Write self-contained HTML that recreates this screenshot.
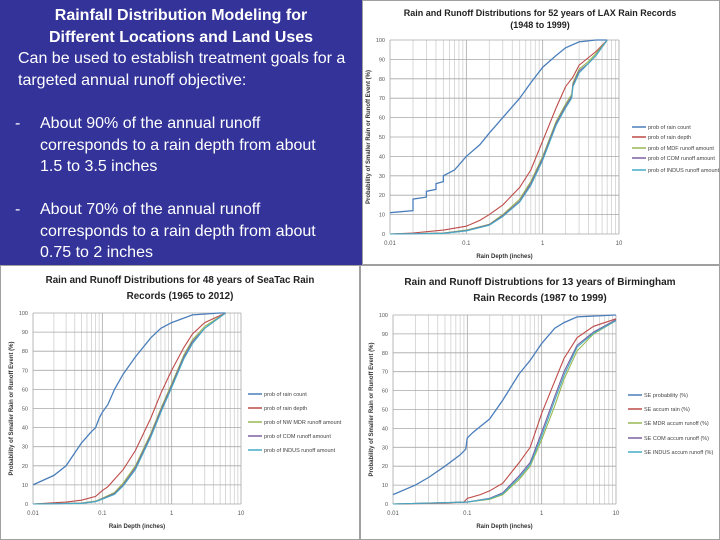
<!DOCTYPE html>
<html><head><meta charset="utf-8"><style>
html,body{margin:0;padding:0;width:720px;height:540px;overflow:hidden;background:#fff;font-family:"Liberation Sans",sans-serif}
#txt{position:absolute;left:0;top:0;width:362px;height:265px;background:#333399;color:#fff;font-size:16px;line-height:21.5px}
#txt div{position:absolute}
svg{position:absolute;left:0;top:0}
</style></head><body>
<div id="txt">
<div style="left:0;width:362px;top:5px;text-align:center;font-weight:bold">Rainfall Distribution Modeling for<br>Different Locations and Land Uses</div>
<div style="left:18px;top:48px;width:340px">Can be used to establish treatment goals for a targeted annual runoff objective:</div>
<div style="left:15px;top:113px;width:345px"><span style="position:absolute;left:0">-</span><div style="position:relative;left:25px;width:290px">About 90% of the annual runoff corresponds to a rain depth from about 1.5 to 3.5 inches</div></div>
<div style="left:15px;top:199px;width:345px"><span style="position:absolute;left:0">-</span><div style="position:relative;left:25px;width:290px">About 70% of the annual runoff corresponds to a rain depth from about 0.75 to 2 inches</div></div>
</div>
<svg id="svg" width="720" height="540" xmlns="http://www.w3.org/2000/svg"></svg>
<script>
// LAX
const laxCountX=[0.01,0.02,0.02,0.03,0.03,0.04,0.04,0.05,0.05,0.07,0.1,0.15,0.2,0.3,0.5,0.7,1,1.5,2,3,5,7];
const laxCountY=[11,12,18,19,22,23,26,27,30,33,40,46,52,60,70,78,86,92,96,99,100,100];
const laxDepthX=[0.01,0.02,0.05,0.1,0.15,0.2,0.3,0.5,0.7,1,1.5,2,2.5,3,4,5,7];
const laxDepthY=[0,0.5,2,4,7,10,15,24,33,48,65,76,81,87,91,94,100];
const laxRunX=[0.01,0.05,0.1,0.2,0.3,0.5,0.7,1,1.5,2,2.4,2.5,3,4,5,7];
const laxMdfY=[0,0.5,2,5,10,18,27,40,58,67,72,78,85,89,93,100];
const laxComY=[0,0.4,1.8,4.8,9.5,17,26,39,57,66,71,77,84,88,92,100];
const laxIndY=[0,0.3,1.6,4.5,9,16.5,25,38,56,65,70,76,83,88,92,100];
// SeaTac
const seaCountX=[0.01,0.02,0.03,0.05,0.07,0.08,0.09,0.1,0.12,0.15,0.2,0.3,0.5,0.7,1,2,5,6];
const seaCountY=[10,15,20,32,38,40,45,48,52,60,68,77,87,92,95,99,100,100];
const seaDepthX=[0.01,0.03,0.05,0.08,0.1,0.12,0.15,0.2,0.3,0.5,0.7,1,1.5,2,3,6];
const seaDepthY=[0,1,2,4,7,9,13,18,28,45,58,70,82,89,95,100];
const seaRunX=[0.01,0.05,0.08,0.1,0.15,0.2,0.3,0.5,0.7,1,1.5,2,3,6];
const seaMdfY=[0,0.5,1.5,3,6,11,20,37,50,63,78,86,93,100];
const seaComY=[0,0.4,1.3,2.8,5.5,10,19,36,49,62,77,85,92,100];
const seaIndY=[0,0.3,1.2,2.5,5,9.5,18,35,48,61,76,84,92,100];
// Birmingham
const birCountX=[0.01,0.02,0.03,0.05,0.08,0.095,0.1,0.12,0.2,0.3,0.5,0.7,1,1.5,2,3,10];
const birCountY=[5,10,14,20,26,29,35,38,45,55,69,76,85,93,96,99,100];
const birDepthX=[0.01,0.05,0.09,0.1,0.15,0.2,0.3,0.5,0.7,1,1.5,2,3,5,10];
const birDepthY=[0,0.5,1,3,5,7,11,22,30,48,65,77,88,94,98];
const birRunX=[0.01,0.1,0.2,0.3,0.5,0.7,1,1.5,2,3,5,10];
const birMdfY=[0,1,2.5,5,13,20,34,52,66,81,90,97];
const birComY=[0,1,3,6,15,22,38,57,70,84,91,97.5];
const birIndY=[0,1,2.8,5.5,14,21,36,55,68,83,90.5,97];
const yTicks=[0,10,20,30,40,50,60,70,80,90,100];
const xTicks=[0.01,0.1,1,10];
const xTickLabels=["0.01","0.1","1","10"];

const NS="http://www.w3.org/2000/svg";
const svg=document.getElementById('svg');
function mk(tag,attrs,parent,text){const e=document.createElementNS(NS,tag);for(const k in attrs)e.setAttribute(k,attrs[k]);if(text!==undefined)e.textContent=text;(parent||svg).appendChild(e);return e;}
const COLORS=["#4a7ebb","#be4b48","#98b954","#7d60a0","#46aac5"];
function chart(c){
  const g=mk('g',{});
  
  
  const bg=mk('rect',{x:c.px,y:c.py,width:c.pw,height:c.ph,fill:'#fff',stroke:'#a0a0a0','stroke-width':1},g);
  
  
  const sx=v=>c.x0+(Math.log10(v)+2)/3*(c.x1-c.x0);
  const sy=v=>c.y1-v/100*(c.y1-c.y0);
  for(let d=-2;d<1;d++)for(let m=2;m<=9;m++){const x=sx(m*Math.pow(10,d));const l=mk('line',{x1:x,x2:x,y1:c.y0,y2:c.y1,stroke:'#d0d0d0','stroke-width':0.8},g);}
  xTicks.forEach((t,i)=>{const x=sx(t);const l=mk('line',{x1:x,x2:x,y1:c.y0,y2:c.y1,stroke:'#a8a8a8','stroke-width':0.8},g);
    const tx=mk('text',{x:x,y:c.y1+11,'font-size':6,'text-anchor':'middle',fill:'#555'},g,xTickLabels[i]);});
  yTicks.forEach(t=>{const y=sy(t);const l=mk('line',{x1:c.x0,x2:c.x1,y1:y,y2:y,stroke:'#a8a8a8','stroke-width':0.8},g);
    const tx=mk('text',{x:c.x0-5,y:y+2,'font-size':5.5,'text-anchor':'end',fill:'#555'},g,String(t));});
  c.title.forEach((t,i)=>{const tx=mk('text',{x:c.tx,y:c.ty+i*c.tl,'font-size':c.tf,'font-weight':'bold','text-anchor':'middle',fill:'#222'},g,t);});
  const xt=mk('text',{x:(c.x0+c.x1)/2,y:c.y1+24,'font-size':6,'font-weight':'bold','text-anchor':'middle',fill:'#333'},g,'Rain Depth (inches)');
  const yx=c.x0-20,yy=(c.y0+c.y1)/2;
  const yt=mk('text',{x:yx,y:yy,'font-size':6,'font-weight':'bold','text-anchor':'middle',fill:'#333',transform:`rotate(-90 ${yx} ${yy})`},g,'Probability of Smaller Rain or Runoff Event (%)');
  c.series.forEach((s,i)=>{
    const d=s.x.map((v,j)=>(j?'L':'M')+sx(v).toFixed(1)+','+sy(s.y[j]).toFixed(1)).join(' ');
    const p=mk('path',{d:d,fill:'none',stroke:COLORS[i],'stroke-width':i==0?1.3:1.1},g);
    
    
    const ly=c.ly[i];
    const ll=mk('line',{x1:c.lx,x2:c.lx+14,y1:ly,y2:ly,stroke:COLORS[i],'stroke-width':1.5},g);
    
    
    const lt=mk('text',{x:c.lx+16,y:ly+2,'font-size':5.5,fill:'#444'},g,s.label);
    
    
  });
}
chart({name:'lax-chart',px:362.5,py:0.5,pw:357,ph:264,x0:390,x1:619,y0:40,y1:234,tx:540,ty:16,tl:12,tf:9,title:['Rain and Runoff Distributions for 52 years of LAX Rain Records','(1948 to 1999)'],lx:632,ly:[127,137,148,158,170],
 series:[{key:'rain-count',x:laxCountX,y:laxCountY,label:'prob of rain count'},{key:'rain-depth',x:laxDepthX,y:laxDepthY,label:'prob of rain depth'},{key:'mdf-runoff',x:laxRunX,y:laxMdfY,label:'prob of MDF runoff amount'},{key:'com-runoff',x:laxRunX,y:laxComY,label:'prob of COM runoff amount'},{key:'indus-runoff',x:laxRunX,y:laxIndY,label:'prob of INDUS runoff amount'}]});
chart({name:'seatac-chart',px:0.5,py:265.5,pw:359,ph:274,x0:33,x1:241,y0:313,y1:504,tx:180,ty:283,tl:16,tf:9.8,title:['Rain and Runoff Distributions for 48 years of SeaTac Rain','Records (1965 to 2012)'],lx:248,ly:[394,408,422,436,450],
 series:[{key:'rain-count',x:seaCountX,y:seaCountY,label:'prob of rain count'},{key:'rain-depth',x:seaDepthX,y:seaDepthY,label:'prob of rain depth'},{key:'mdf-runoff',x:seaRunX,y:seaMdfY,label:'prob of NW MDR runoff amount'},{key:'com-runoff',x:seaRunX,y:seaComY,label:'prob of COM runoff amount'},{key:'indus-runoff',x:seaRunX,y:seaIndY,label:'prob of INDUS runoff amount'}]});
chart({name:'birmingham-chart',px:360.5,py:265.5,pw:359,ph:274,x0:393,x1:616,y0:315,y1:504,tx:540,ty:285,tl:16,tf:10,title:['Rain and Runoff Distrubtions for 13 years of Birmingham','Rain Records (1987 to 1999)'],lx:628,ly:[395,409,423,438,452],
 series:[{key:'rain-count',x:birCountX,y:birCountY,label:'SE probability (%)'},{key:'rain-depth',x:birDepthX,y:birDepthY,label:'SE accum rain (%)'},{key:'mdf-runoff',x:birRunX,y:birMdfY,label:'SE MDR accum runoff (%)'},{key:'com-runoff',x:birRunX,y:birComY,label:'SE COM accum runoff (%)'},{key:'indus-runoff',x:birRunX,y:birIndY,label:'SE INDUS accum runoff (%)'}]});
</script>
</body></html>
